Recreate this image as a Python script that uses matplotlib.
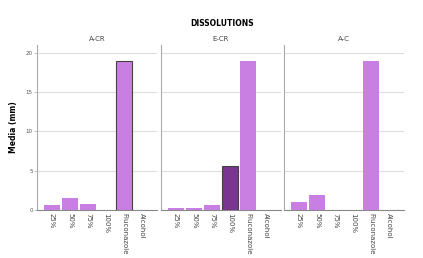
import matplotlib
matplotlib.use("Agg")
import matplotlib.pyplot as plt
import numpy as np

categories = ["25%", "50%", "75%", "100%", "Fluconazole", "Alcohol"]
panels = ["A-CR", "E-CR", "A-C"]
values = {
    "A-CR": [0.6, 1.5, 0.72, 0, 19.0, 0],
    "E-CR": [0.3, 0.3, 0.64, 5.65, 19.0, 0],
    "A-C": [1.0, 1.95, 0, 0, 19.0, 0],
}
highlight = {"A-CR": "Fluconazole", "E-CR": "100%"}

LIGHT = "#C97FE1"
DARK = "#7A358F"

fig = plt.figure(figsize=(4.23, 2.58), dpi=100)
lefts = [37, 161, 284]
width_px = 120
x = np.arange(len(categories))

for i, name in enumerate(panels):
    ax = fig.add_axes([lefts[i] / 423, 1 - 210 / 258, width_px / 423, 165 / 258])
    colors = []
    edges = []
    for c in categories:
        if highlight.get(name) == c:
            colors.append(DARK if c == "100%" else LIGHT)
            edges.append("#444444")
        else:
            colors.append(LIGHT)
            edges.append("none")
    ax.bar(x, values[name], width=0.88, color=colors, edgecolor=edges, linewidth=0.8, zorder=3)
    ax.set_xlim(-0.83, 5.83)
    ax.set_ylim(0, 21)
    ax.set_yticks([0, 5, 10, 15, 20])
    ax.yaxis.grid(True, color="#dddddd", linewidth=0.8, zorder=0)
    ax.set_axisbelow(True)
    for s in ["top", "right"]:
        ax.spines[s].set_visible(False)
    ax.spines["left"].set_color("#aaaaaa")
    ax.spines["bottom"].set_color("#888888")
    ax.spines["left"].set_linewidth(0.8)
    ax.spines["bottom"].set_linewidth(0.8)
    ax.set_xticks(x)
    ax.set_xticklabels(categories, rotation=270, fontsize=5, color="#444444")
    ax.tick_params(axis="x", length=0, pad=2)
    ax.tick_params(axis="y", length=2, width=0.5, color="#aaaaaa", labelsize=4, labelcolor="#555555", pad=1)
    if i > 0:
        ax.set_yticklabels([])
        ax.tick_params(axis="y", length=0)
    ax.set_title(name, fontsize=5, color="#444444", pad=3)
    if i == 0:
        ax.set_ylabel("Media (mm)", fontsize=5.5, fontweight="bold", labelpad=6)

fig.text(222 / 423, 1 - 24 / 258, "DISSOLUTIONS", ha="center", va="center",
         fontsize=5.5, fontweight="bold")

fig.savefig("out.png", dpi=100)
